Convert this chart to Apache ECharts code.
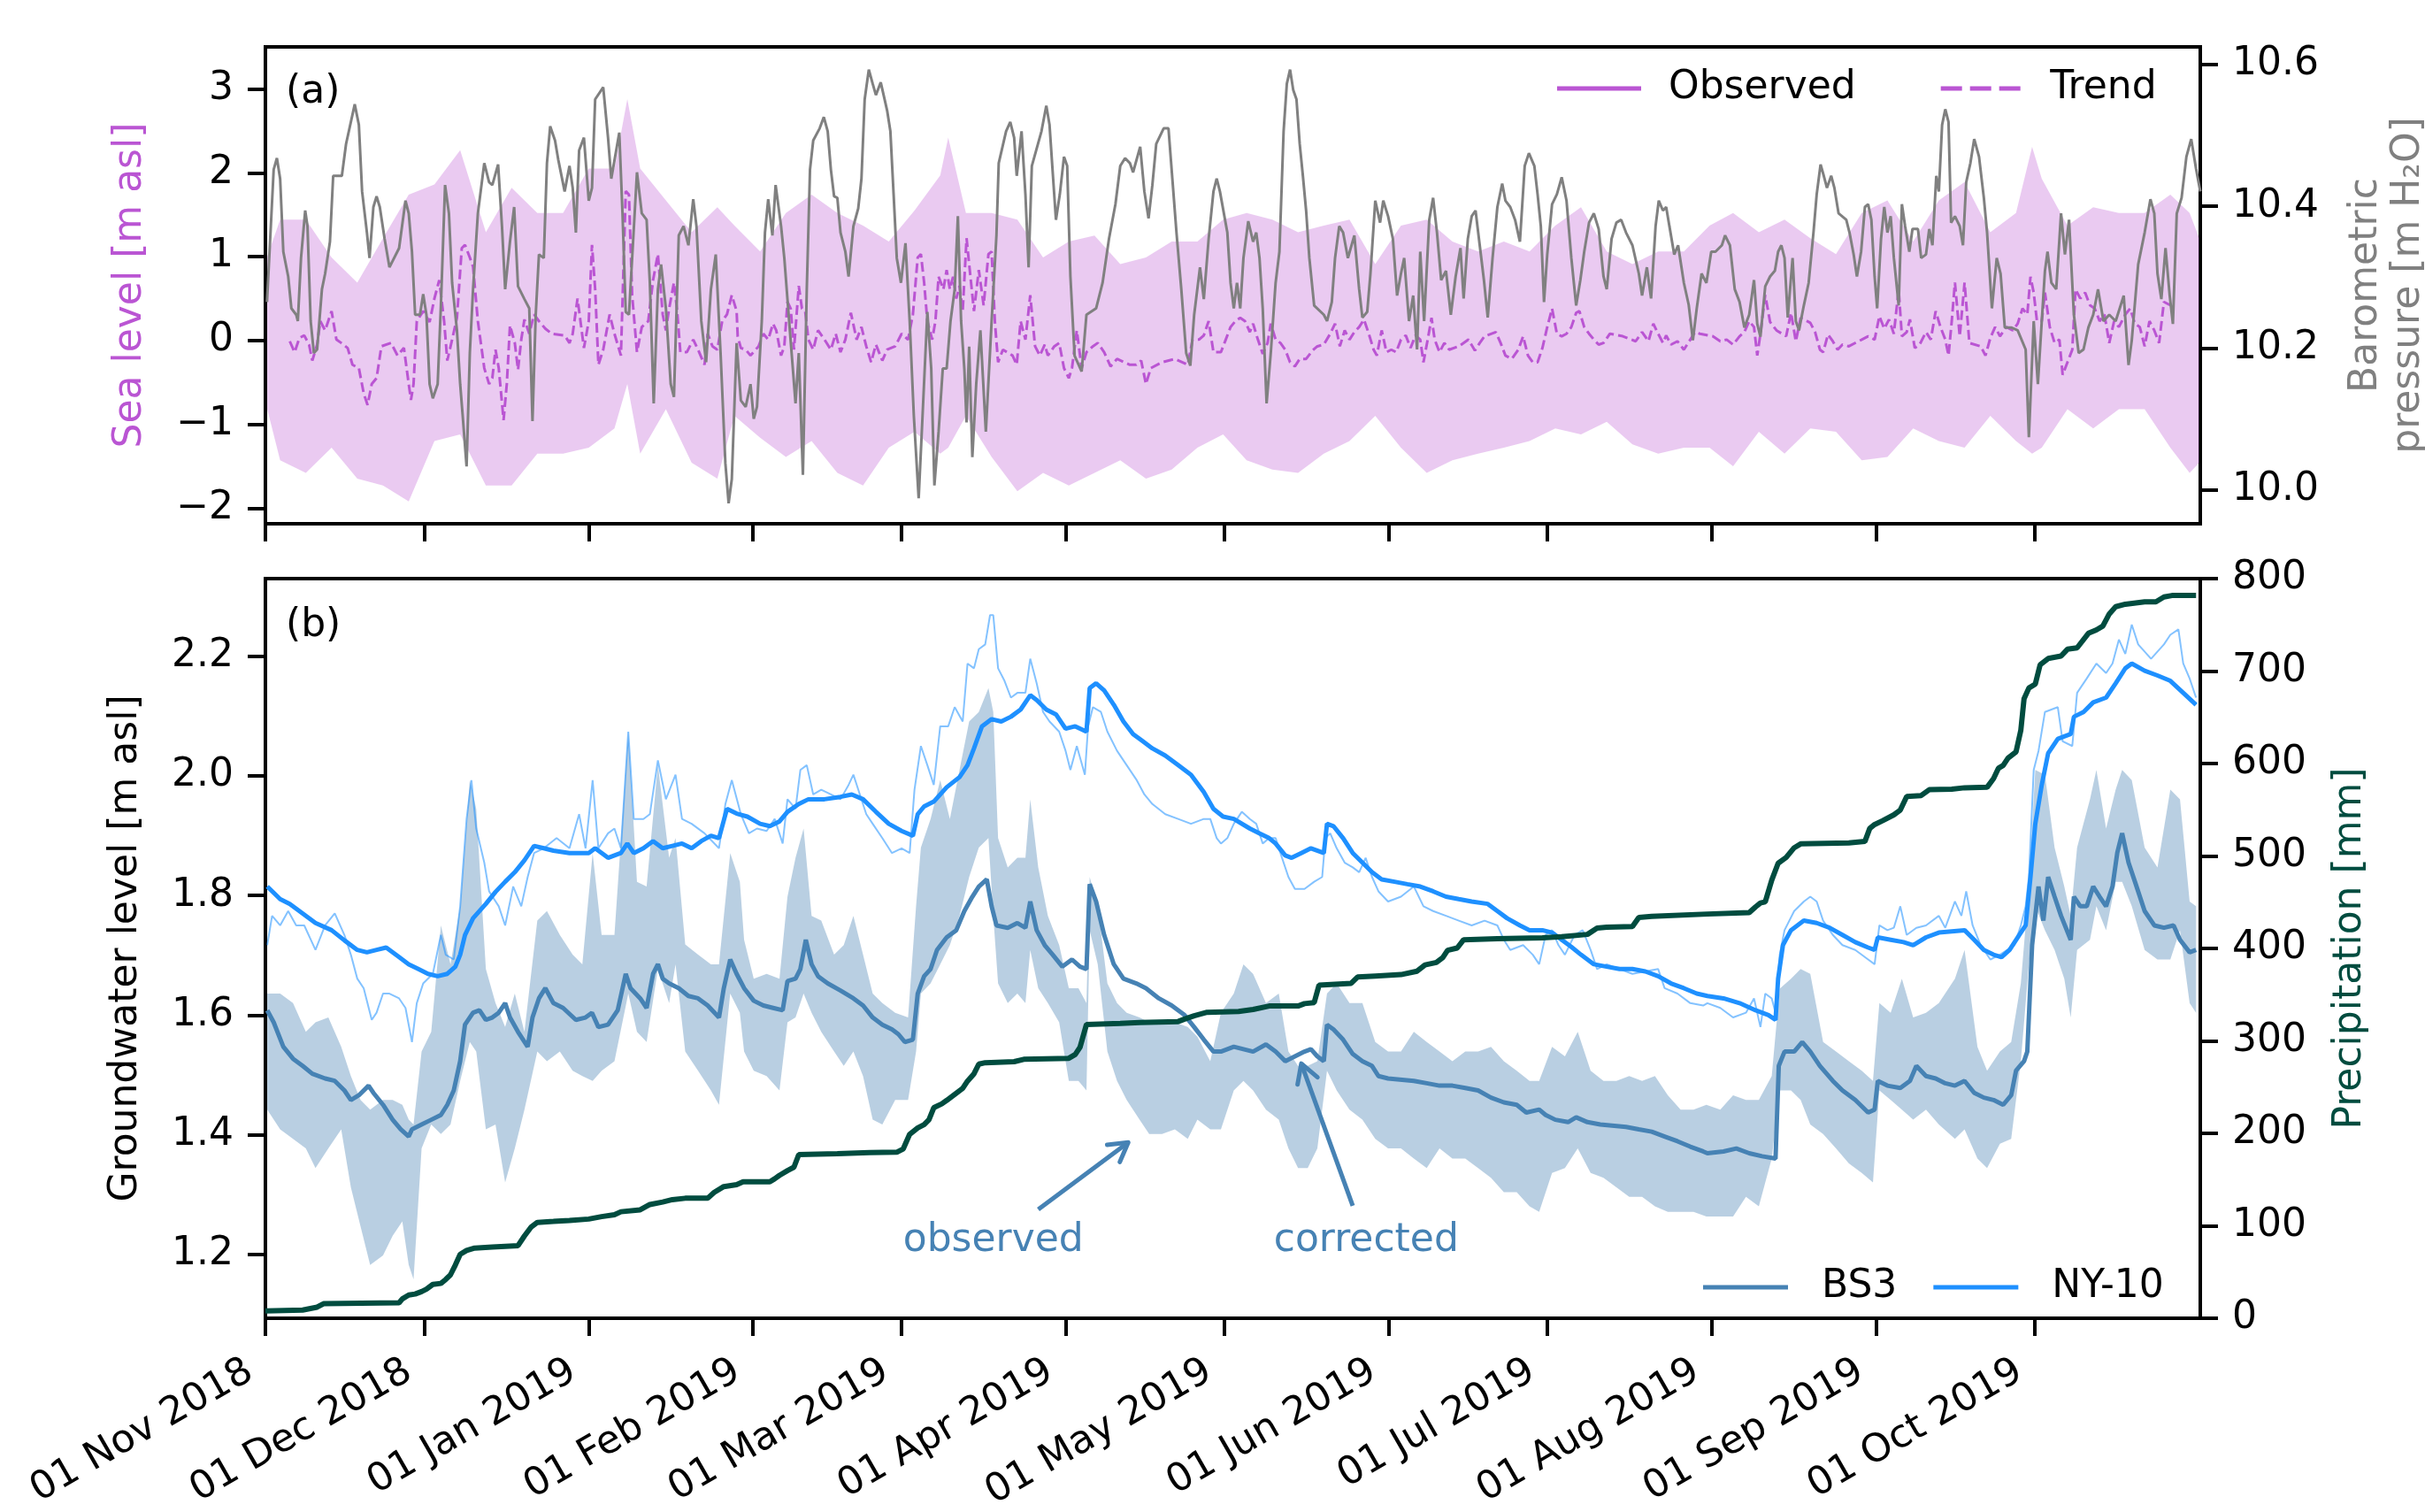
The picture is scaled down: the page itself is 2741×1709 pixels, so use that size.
<!DOCTYPE html>
<html>
<head>
<meta charset="utf-8">
<script src="https://cdn.jsdelivr.net/npm/echarts@6/dist/echarts.min.js"></script>
<style>
html, body { margin: 0; padding: 0; background: #fff; }
#chart { width: 2741px; height: 1709px; }
</style>
</head>
<body>
<div id="chart"></div>
<script>
// x values are days since 01 Nov 2018
var tickDays = [0, 30, 61, 92, 120, 151, 181, 212, 242, 273, 304, 334];
var tickLabels = ['01 Nov 2018', '01 Dec 2018', '01 Jan 2019', '01 Feb 2019', '01 Mar 2019', '01 Apr 2019',
  '01 May 2019', '01 Jun 2019', '01 Jul 2019', '01 Aug 2019', '01 Sep 2019', '01 Oct 2019'];
var seaTicks = [-2, -1, 0, 1, 2, 3];
var pressTicks = [10.0, 10.2, 10.4, 10.6];
var gwTicks = [1.2, 1.4, 1.6, 1.8, 2.0, 2.2];

// sea level observed: [day, low, high] of the tidal range
var seaBand = [[0.35,-0.82,1.00],[2.78,-1.43,1.44],[7.63,-1.58,1.44],[12.49,-1.28,0.99],[17.34,-1.65,0.69],[22.20,-1.73,1.22],[27.05,-1.92,1.74],[31.90,-1.20,1.86],[36.76,-1.12,2.27],[41.61,-1.73,1.29],[46.47,-1.73,1.82],[51.32,-1.35,1.52],[56.18,-1.35,1.52],[61.03,-1.28,2.05],[65.88,-1.05,2.05],[68.31,-0.52,2.88],[70.74,-1.35,2.05],[75.59,-0.82,1.67],[80.45,-1.46,1.29],[85.30,-1.65,1.59],
  [88.53,-0.90,1.37],[93.38,-1.16,1.06],[98.24,-1.39,1.52],[103.09,-1.20,1.74],[107.95,-1.58,1.52],[112.80,-1.73,1.37],[117.66,-1.28,1.18],[122.51,-1.09,1.55],[127.37,-1.35,1.97],[128.88,-1.28,2.42],[132.22,-0.90,1.52],[137.07,-1.39,1.52],[141.93,-1.80,1.44],[146.78,-1.58,0.99],[151.64,-1.73,1.18],[156.49,-1.58,1.25],[161.35,-1.43,0.91],[166.20,-1.65,0.99],[171.06,-1.54,1.18],[175.91,-1.28,1.18],[180.76,-1.12,1.44],
  [185.20,-1.43,1.52],[190.06,-1.54,1.44],[194.91,-1.58,1.29],[199.77,-1.35,1.37],[204.62,-1.20,1.44],[209.48,-0.90,0.91],[214.33,-1.28,1.37],[219.19,-1.58,1.44],[224.04,-1.43,1.18],[228.89,-1.35,1.06],[233.75,-1.28,1.18],[238.60,-1.20,1.06],[243.46,-1.05,1.37],[248.31,-1.12,1.59],[253.17,-0.97,1.06],[258.02,-1.24,0.91],[262.88,-1.35,1.06],[267.73,-1.28,1.06],[272.58,-1.28,1.37],
  [277.02,-1.50,1.52],[281.88,-1.09,1.29],[286.73,-1.35,1.44],[291.59,-1.05,1.22],[296.44,-1.09,1.03],[301.30,-1.43,1.52],[306.15,-1.39,1.67],[311.01,-1.05,1.18],[315.86,-1.20,1.67],[320.71,-1.28,1.89],[325.57,-0.90,1.29],[330.42,-1.20,1.52],[333.46,-1.35,2.31],[335.28,-1.28,1.93],[340.13,-0.82,1.37],[344.99,-1.05,1.59],[349.84,-0.82,1.52],[354.70,-0.82,1.52],[359.55,-1.28,1.74],[363.19,-1.58,1.52],[365.0,-1.46,1.22]];

var seaTrend = [[4.60,-0.01],[5.51,-0.14],[6.42,0.03],[7.33,0.06],[8.24,-0.05],[8.85,-0.24],[9.76,-0.05],[10.36,0.23],[11.27,0.12],[12.49,0.35],[13.40,0.01],[14.31,-0.03],[15.52,-0.09],[16.43,-0.29],[17.64,-0.33],[18.55,-0.63],[19.28,-0.77],[20.07,-0.52],[20.98,-0.45],[21.89,-0.07],[23.71,-0.03],[24.93,-0.18],[26.14,-0.09],[27.05,-0.52],[27.47,-0.71],[27.96,-0.52],[28.57,0.23],[29.78,0.35],[30.99,0.22],[31.90,0.50],[32.81,0.72],[33.73,0.23],[34.33,-0.24],[35.24,0.01],[36.15,0.27],[37.06,1.10],[37.67,1.14],[38.58,0.99],[39.19,0.88],[40.10,0.23],[41.31,-0.33],[42.22,-0.52],[42.83,-0.45],[43.43,-0.11],[44.04,-0.33],[44.95,-0.95],[45.56,-0.52],[46.16,0.18],[47.07,-0.03],[47.68,-0.35],[48.29,0.01],[48.89,0.25],[49.80,0.08],[50.71,0.31],[51.63,0.23],[52.84,0.14],[54.05,0.08],[56.48,0.06],[57.39,-0.03],[58.00,0.08],[58.91,0.50],[60.12,-0.09],[61.03,0.23],[61.64,1.14],[62.24,0.61],[62.85,-0.29],[63.76,-0.11],[64.97,0.31],[65.88,0.08],[67.10,-0.18],[68.01,1.78],[68.62,1.74],[69.22,0.54],[70.13,-0.14],[71.04,0.16],[72.26,0.23],[73.17,0.72],[74.08,1.03],[74.99,0.31],[75.59,0.12],[76.20,0.38],[77.11,0.69],[77.72,0.35],[78.32,-0.14],[79.54,-0.14],[80.75,0.01],[81.66,-0.11],[82.88,-0.29],[83.48,0.08],[84.39,-0.07],[85.30,-0.11],[86.21,0.23],[87.12,0.31],[88.03,0.54],[88.94,0.35],
  [89.14,0.05],[89.74,-0.09],[90.65,-0.11],[91.56,-0.18],[93.08,-0.07],[93.99,0.08],[94.90,0.01],[95.81,0.20],[96.42,0.12],[97.33,-0.18],[97.94,-0.07],[98.54,0.46],[99.15,0.38],[99.76,-0.11],[100.67,0.65],[101.27,0.38],[101.88,0.35],[102.49,0.01],[103.40,-0.11],[104.31,0.12],[105.52,0.01],[106.73,-0.11],[107.64,0.08],[108.55,-0.14],[109.46,0.01],[110.50,0.33],[111.59,0.01],[112.50,0.16],[113.41,-0.07],[114.32,-0.26],[115.23,-0.05],[116.44,-0.24],[117.35,-0.11],[118.87,-0.07],[120.08,0.08],[121.30,0.01],[122.21,0.31],[123.12,0.99],[123.72,1.03],[124.33,0.69],[124.94,0.23],[125.85,0.01],[126.46,0.23],[127.06,0.76],[127.97,0.61],[128.58,0.84],[129.19,0.61],[129.79,0.76],[130.40,0.50],[131.01,0.65],[131.61,0.35],[132.34,1.22],[132.83,0.91],[133.74,0.35],[134.65,0.84],[135.56,0.42],[136.47,1.03],[137.07,1.06],[137.68,0.23],[138.29,-0.26],[139.20,-0.11],[141.02,-0.18],[141.81,-0.29],[142.54,0.23],[143.45,0.01],[144.36,0.54],[145.27,-0.07],[146.18,-0.18],[147.09,-0.05],[147.69,-0.18],[148.91,-0.07],[149.82,-0.03],[150.73,-0.33],[151.64,-0.45],[152.24,-0.33],[153.15,0.12],[154.06,-0.33],[154.97,-0.14],[156.19,-0.07],[157.10,-0.03],[158.31,-0.14],[159.52,-0.31],[160.74,-0.22],[163.17,-0.29],[164.38,-0.29],[165.29,-0.24],[166.20,-0.52],[167.11,-0.33],[169.23,-0.26],[171.66,-0.22],[174.09,-0.29],[175.00,0.01],[176.21,0.01],[177.12,0.06],[178.03,0.23],[178.94,-0.14],[179.85,-0.14],
  [180.35,-0.14],[181.26,0.01],[182.17,0.16],[183.08,0.23],[183.99,0.27],[184.90,0.23],[185.81,0.10],[186.42,0.20],[187.33,0.01],[188.24,-0.16],[189.15,-0.03],[189.76,0.20],[190.67,0.01],[191.58,-0.03],[192.49,-0.11],[193.40,-0.26],[194.31,-0.31],[195.22,-0.22],[196.43,-0.22],[197.64,-0.12],[198.55,-0.07],[199.77,-0.05],[200.98,0.08],[201.89,0.20],[202.80,-0.07],[203.71,0.12],[204.62,0.01],[205.53,0.10],[206.44,0.16],[207.35,0.25],[208.26,0.08],[209.17,-0.11],[209.78,-0.18],[210.69,0.12],[211.60,-0.14],[212.51,-0.11],[213.42,-0.14],[214.33,0.01],[215.24,0.06],[216.15,-0.09],[217.06,0.06],[217.97,0.01],[218.58,-0.26],[219.49,0.05],[220.10,0.27],[220.70,0.01],[221.61,-0.14],[222.52,-0.03],[223.43,-0.11],[225.25,-0.07],[227.07,0.01],[228.29,-0.12],[229.20,-0.03],[230.11,0.05],[232.23,0.10],[233.14,-0.03],[234.05,-0.18],[235.27,-0.22],[236.48,-0.11],[237.39,0.05],[238.30,-0.18],[239.21,-0.26],[240.12,-0.26],[241.03,-0.09],[241.94,0.16],[242.85,0.38],[243.76,0.08],[244.67,0.05],[245.58,0.08],[246.49,0.16],[247.40,0.33],[248.01,0.35],[248.92,0.16],[249.83,0.08],[250.74,0.01],[251.65,-0.05],[252.56,-0.03],[253.77,0.08],[256.20,0.05],[258.63,-0.01],[259.84,0.10],[261.05,-0.01],[261.96,0.20],[262.88,0.08],[263.78,-0.03],[264.39,0.06],[265.30,-0.05],[266.52,-0.01],[267.73,-0.11],[268.94,0.01],[269.85,0.10],[270.76,0.08],[273.19,0.05],
  [274.60,-0.01],[275.81,0.01],[277.02,-0.05],[278.24,0.05],[279.15,0.10],[280.06,0.23],[280.97,0.16],[281.58,-0.18],[282.18,0.08],[283.09,0.54],[284.00,0.22],[285.22,0.12],[287.04,0.05],[287.95,0.33],[288.86,-0.01],[289.77,0.27],[291.59,0.21],[292.50,0.10],[293.41,-0.11],[294.02,-0.14],[294.93,0.07],[295.84,-0.01],[296.75,-0.11],[297.66,-0.05],[298.87,-0.07],[301.30,0.01],[302.51,0.05],[303.73,0.01],[304.63,0.29],[305.55,0.14],[306.45,0.25],[307.36,0.08],[308.27,0.61],[308.88,0.05],[309.79,0.10],[310.40,0.25],[311.31,-0.09],[312.22,-0.05],[313.43,0.10],[314.34,0.01],[315.25,0.35],[316.16,0.16],[317.07,0.01],[317.68,-0.18],[318.29,0.23],[318.89,0.69],[319.80,0.05],[320.71,0.69],[321.62,-0.03],[323.75,-0.07],[324.66,-0.18],[325.57,0.03],[326.48,0.16],[327.39,0.05],[328.60,0.16],[329.82,0.12],[330.73,0.20],[331.64,0.38],[332.55,0.31],[333.15,0.76],[333.76,0.57],[334.37,0.23],[335.28,0.23],[335.88,0.57],[336.79,0.16],[337.70,-0.03],[338.61,0.01],[339.22,-0.41],[340.13,-0.26],[341.04,-0.11],[341.65,0.61],[342.56,0.50],[343.47,0.57],[344.38,0.42],[345.29,0.38],[346.20,0.23],[347.11,0.31],[348.02,-0.03],[348.93,0.23],[349.84,0.16],[351.05,0.31],[351.96,0.38],[352.87,0.20],[353.78,0.16],[354.70,-0.07],[355.61,0.23],[356.52,0.12],[357.43,-0.03],[358.34,0.46],[359.55,0.42]];

var pressure = [[0.3,10.265],[1.56,10.452],[2.17,10.468],[2.78,10.439],[3.38,10.336],[4.30,10.301],[4.90,10.256],[5.81,10.247],[6.12,10.238],[6.72,10.327],[7.51,10.394],[7.94,10.372],[8.54,10.238],[9.15,10.193],[9.76,10.198],[10.67,10.283],[11.27,10.305],[12.18,10.350],[12.79,10.443],[14.43,10.443],[15.22,10.488],[16.86,10.544],[17.64,10.515],[18.25,10.421],[19.16,10.363],[19.65,10.327],[20.38,10.399],[20.98,10.414],[21.59,10.399],[22.50,10.354],[23.41,10.314],[25.23,10.341],[26.44,10.408],[27.05,10.390],[27.66,10.336],[28.26,10.247],[29.17,10.247],[29.78,10.276],[30.39,10.247],[30.99,10.149],[31.60,10.129],[32.51,10.149],[33.12,10.260],[33.91,10.430],[34.64,10.390],[35.24,10.292],[36.15,10.225],[36.76,10.149],[37.24,10.104],[37.97,10.033],[38.58,10.193],[39.19,10.283],[40.10,10.390],[41.31,10.461],[42.22,10.434],[42.83,10.430],[43.92,10.459],[44.65,10.372],[45.25,10.283],[46.16,10.350],[46.95,10.399],[47.68,10.287],[48.89,10.269],[49.80,10.256],[50.41,10.097],[51.02,10.247],[51.63,10.332],[52.54,10.327],[53.14,10.461],[53.75,10.513],[54.66,10.493],[55.27,10.466],[56.48,10.421],[57.39,10.457],[58.00,10.426],[58.60,10.363],[59.21,10.479],[60.12,10.497],[61.03,10.408],[61.64,10.426],[62.24,10.551],[63.76,10.568],[64.67,10.497],[65.28,10.439],[66.79,10.504],[67.40,10.390],[68.01,10.251],[68.62,10.247],[70.13,10.448],[71.04,10.390],[71.95,10.381],[72.56,10.292],[73.29,10.122],[74.08,10.283],[74.68,10.318],[75.59,10.256],[76.50,10.149],[77.11,10.131],[78.02,10.359],[78.93,10.372],[79.84,10.345],[80.75,10.410],[81.36,10.372],[82.27,10.238],[83.18,10.180],[84.09,10.283],[85.00,10.332],[85.91,10.193],[86.82,10.037],[87.43,9.981],[88.03,10.015],[88.94,10.207],
  [89.74,10.126],[90.65,10.117],[91.56,10.149],[92.17,10.100],[92.78,10.117],[93.69,10.238],[94.29,10.363],[94.90,10.410],[95.69,10.359],[96.30,10.430],[97.33,10.372],[97.94,10.327],[98.85,10.238],[100.06,10.122],[100.67,10.193],[101.45,10.021],[102.18,10.283],[102.79,10.452],[103.40,10.493],[104.61,10.510],[105.40,10.526],[106.13,10.506],[106.73,10.452],[107.34,10.414],[107.95,10.412],[108.55,10.363],[109.46,10.336],[110.07,10.301],[110.98,10.372],[111.89,10.397],[112.50,10.439],[113.11,10.551],[113.89,10.593],[114.62,10.573],[115.23,10.557],[116.14,10.575],[116.75,10.555],[117.35,10.535],[117.96,10.506],[118.57,10.417],[119.17,10.327],[119.96,10.292],[120.81,10.348],[121.60,10.238],[122.39,10.104],[123.30,9.988],[124.03,10.104],[124.94,10.251],[125.67,10.171],[126.27,10.006],[127.06,10.082],[127.85,10.171],[128.58,10.171],[129.31,10.238],[130.10,10.283],[130.70,10.386],[131.31,10.238],[131.92,10.171],[132.34,10.095],[132.83,10.202],[133.43,10.046],[134.16,10.149],[134.95,10.225],[135.98,10.082],[137.07,10.238],[137.98,10.359],[138.41,10.461],[139.80,10.506],[140.59,10.519],[141.32,10.497],[141.81,10.443],[142.72,10.506],[143.45,10.417],[144.05,10.314],[144.66,10.457],[146.48,10.506],[147.39,10.542],[148.00,10.515],[148.60,10.448],[149.21,10.381],[149.94,10.417],[150.73,10.470],[151.33,10.457],[151.94,10.301],[152.73,10.189],[154.06,10.167],[154.97,10.247],[156.79,10.256],[158.01,10.292],[159.22,10.354],[160.44,10.403],[161.35,10.457],[162.26,10.468],[163.17,10.461],[163.77,10.448],[165.11,10.484],[165.90,10.421],[166.69,10.383],[167.41,10.430],[168.14,10.488],[169.54,10.510],[170.45,10.510],[171.18,10.439],[171.96,10.363],[172.87,10.283],[173.79,10.193],[174.57,10.175],[175.30,10.247],[176.40,10.314],[177.12,10.269],[178.03,10.354],[178.94,10.421],[179.55,10.439],[180.16,10.421],
  [181.56,10.363],[182.17,10.292],[182.78,10.256],[183.38,10.292],[183.99,10.256],[184.60,10.327],[185.51,10.379],[186.42,10.350],[187.02,10.363],[187.63,10.327],[188.24,10.256],[188.97,10.122],[189.76,10.193],[190.67,10.292],[191.39,10.336],[192.18,10.506],[192.79,10.573],[193.40,10.593],[194.00,10.564],[194.61,10.551],[195.22,10.488],[195.82,10.443],[196.43,10.394],[197.04,10.327],[197.95,10.260],[199.77,10.247],[200.38,10.238],[201.28,10.265],[201.89,10.327],[202.68,10.372],[203.41,10.363],[204.32,10.327],[205.53,10.359],[206.44,10.283],[207.05,10.243],[207.96,10.251],[208.57,10.305],[209.48,10.408],[210.39,10.377],[210.99,10.408],[211.90,10.386],[212.81,10.354],[213.60,10.274],[214.33,10.305],[214.94,10.327],[215.85,10.238],[216.64,10.274],[217.37,10.198],[217.97,10.336],[218.70,10.238],[219.67,10.381],[220.40,10.412],[221.13,10.363],[221.92,10.296],[222.83,10.309],[223.74,10.247],[224.65,10.301],[225.56,10.341],[226.16,10.270],[226.95,10.354],[227.68,10.386],[228.41,10.394],[229.20,10.345],[229.99,10.296],[230.71,10.243],[231.62,10.327],[232.53,10.399],[233.44,10.432],[234.05,10.408],[234.96,10.399],[235.87,10.381],[236.78,10.350],[237.69,10.457],[238.48,10.475],[239.51,10.457],[240.12,10.417],[240.73,10.372],[241.33,10.265],[241.94,10.332],[242.85,10.403],[243.76,10.417],[244.67,10.441],[245.58,10.408],[246.49,10.327],[247.40,10.260],[248.19,10.296],[248.92,10.336],[249.83,10.377],[250.74,10.390],[251.65,10.368],[252.56,10.301],[253.17,10.283],[254.08,10.354],[254.99,10.377],[255.90,10.381],[256.81,10.363],[258.02,10.345],[259.23,10.305],[259.84,10.274],[260.75,10.314],[261.54,10.270],[262.39,10.372],[262.99,10.408],[263.78,10.394],[264.39,10.399],[265.00,10.372],[265.91,10.332],[266.64,10.345],[267.73,10.292],[268.64,10.261],[269.43,10.211],[270.16,10.256],[271.07,10.305],[271.98,10.292],[272.89,10.336],
  [273.69,10.336],[274.90,10.345],[275.51,10.359],[276.42,10.345],[277.33,10.283],[278.24,10.265],[279.15,10.229],[280.06,10.247],[280.97,10.296],[281.58,10.234],[282.18,10.216],[283.09,10.287],[284.00,10.301],[284.91,10.309],[285.52,10.336],[286.13,10.345],[286.73,10.327],[287.34,10.243],[288.25,10.327],[288.86,10.238],[289.46,10.225],[290.37,10.260],[291.28,10.292],[292.19,10.363],[292.80,10.417],[293.53,10.459],[294.14,10.443],[294.74,10.426],[295.53,10.443],[296.14,10.426],[296.93,10.390],[298.38,10.381],[298.99,10.363],[299.78,10.332],[300.39,10.301],[301.18,10.336],[301.90,10.399],[302.51,10.403],[303.12,10.381],[303.73,10.301],[304.21,10.256],[304.94,10.354],[305.55,10.399],[306.15,10.363],[306.76,10.386],[307.37,10.327],[308.27,10.260],[308.88,10.403],[309.49,10.372],[310.28,10.336],[310.88,10.368],[311.91,10.368],[312.52,10.327],[313.43,10.332],[314.04,10.368],[314.65,10.345],[315.37,10.443],[315.86,10.421],[316.47,10.515],[317.07,10.537],[317.68,10.519],[318.17,10.377],[318.89,10.386],[319.80,10.372],[320.41,10.345],[321.02,10.434],[321.81,10.461],[322.53,10.495],[323.44,10.470],[324.35,10.412],[324.96,10.363],[325.87,10.256],[326.78,10.327],[327.51,10.305],[328.30,10.229],[329.51,10.229],[330.73,10.225],[332.24,10.198],[332.85,10.074],[333.76,10.238],[334.55,10.149],[335.28,10.238],[335.88,10.309],[336.37,10.336],[337.10,10.292],[338.01,10.283],[338.92,10.390],[339.65,10.332],[340.43,10.381],[341.34,10.247],[342.25,10.193],[343.16,10.198],[344.08,10.229],[344.99,10.247],[345.90,10.283],[346.93,10.238],[348.02,10.247],[349.23,10.238],[350.75,10.274],[351.66,10.176],[352.27,10.211],[353.48,10.318],[354.70,10.363],[355.79,10.410],[356.52,10.390],[357.12,10.305],[357.85,10.269],[358.64,10.341],[359.43,10.274],[360.03,10.234],[360.76,10.390],[361.67,10.412],[362.58,10.470],[363.49,10.495],[364.40,10.453],[365.2,10.421]];

// BS3 observed: [day, low, high]
var bs3Band = [[0.35,1.442,1.636],[2.78,1.409,1.636],[5.21,1.393,1.620],[7.63,1.377,1.572],[9.45,1.344,1.588],[11.88,1.377,1.596],[14.31,1.409,1.547],[16.13,1.312,1.498],[17.95,1.247,1.458],[19.77,1.182,1.442],[22.20,1.198,1.458],[24.02,1.231,1.458],[25.84,1.255,1.450],[27.05,1.182,1.425],[27.96,1.158,1.417],[29.48,1.377,1.539],[31.30,1.417,1.572],[33.12,1.401,1.750],[34.94,1.417,1.685],[36.76,1.490,1.782],[38.58,1.555,1.993],[39.79,1.539,1.945],[41.61,1.409,1.677],[43.43,1.417,1.620],[45.25,1.320,1.580],[47.07,1.377,1.636],[48.89,1.442,1.572],[51.32,1.539,1.758],[53.14,1.523,1.774],[55.57,1.539,1.734],[57.99,1.507,1.701],[59.82,1.498,1.685],[61.76,1.490,1.871],[63.46,1.507,1.734],[65.88,1.523,1.734],[68.49,1.636,2.074],[70.13,1.572,1.823],[71.95,1.555,1.815],[74.08,1.677,2.018],[76.20,1.620,1.863],[77.41,1.685,1.896],[79.24,1.539,1.718],[81.66,1.507,1.701],[84.09,1.474,1.685],[85.61,1.450,1.685],[87.73,1.636,1.871],[89.55,1.604,1.823],
  [90.35,1.539,1.726],[92.17,1.507,1.661],[94.60,1.498,1.669],[97.03,1.474,1.661],[98.54,1.588,1.798],[100.06,1.596,1.863],[101.58,1.636,1.912],[103.09,1.604,1.766],[104.91,1.572,1.758],[107.34,1.539,1.701],[109.16,1.515,1.717],[110.98,1.539,1.766],[112.80,1.498,1.701],[114.62,1.425,1.636],[116.44,1.417,1.620],[118.87,1.458,1.604],[121.30,1.458,1.596],[122.81,1.539,1.782],[123.72,1.636,1.880],[125.55,1.653,1.928],[127.37,1.685,1.993],[129.19,1.717,1.928],[131.01,1.766,2.010],[132.83,1.831,2.091],[134.65,1.880,2.107],[136.47,1.896,2.147],[137.38,1.766,2.107],[138.29,1.653,1.896],[140.11,1.620,1.847],[141.93,1.636,1.863],[143.45,1.620,1.863],[144.36,1.709,1.961],[145.87,1.645,1.847],[147.69,1.620,1.766],[149.82,1.588,1.717],[151.64,1.490,1.645],[153.46,1.490,1.645],[154.97,1.474,1.620],[155.58,1.742,1.831],[157.10,1.685,1.782],[158.92,1.539,1.653],[160.74,1.490,1.620],[162.56,1.458,1.604],[164.99,1.425,1.596],[166.81,1.401,1.588],[169.23,1.401,1.588],[171.66,1.409,1.588],[174.09,1.393,1.580],[175.91,1.425,1.564],[178.34,1.409,1.523],
  [180.35,1.409,1.604],[182.78,1.474,1.636],[184.60,1.490,1.685],[186.42,1.474,1.669],[188.85,1.442,1.620],[191.27,1.425,1.636],[193.09,1.377,1.539],[194.91,1.344,1.515],[196.73,1.344,1.515],[198.55,1.377,1.523],[200.37,1.507,1.636],[202.20,1.474,1.653],[204.62,1.442,1.620],[207.05,1.425,1.620],[209.48,1.393,1.555],[211.90,1.377,1.539],[214.33,1.377,1.539],[216.76,1.360,1.572],[219.19,1.344,1.555],[221.61,1.377,1.539],[224.04,1.360,1.523],[226.47,1.360,1.539],[228.89,1.344,1.539],[231.32,1.328,1.547],[233.75,1.304,1.523],[236.18,1.304,1.507],[238.60,1.280,1.490],[240.42,1.271,1.490],[242.85,1.336,1.547],[245.28,1.344,1.531],[247.70,1.377,1.572],[250.13,1.336,1.507],[252.56,1.328,1.490],[254.99,1.312,1.490],[257.41,1.296,1.498],[259.84,1.296,1.490],[262.27,1.280,1.498],[264.70,1.271,1.466],[267.12,1.271,1.442],[269.55,1.271,1.442],[271.98,1.263,1.450],
  [274.60,1.263,1.442],[277.02,1.263,1.466],[279.45,1.296,1.458],[281.88,1.280,1.458],[284.31,1.360,1.498],[285.82,1.474,1.644],[287.95,1.474,1.661],[289.77,1.458,1.677],[291.59,1.417,1.669],[294.01,1.401,1.555],[296.44,1.377,1.539],[298.87,1.352,1.523],[301.30,1.336,1.507],[303.42,1.320,1.490],[304.63,1.474,1.620],[306.76,1.458,1.604],[308.88,1.442,1.661],[311.01,1.425,1.596],[313.43,1.442,1.604],[315.86,1.417,1.620],[318.89,1.393,1.661],[320.71,1.409,1.709],[323.14,1.360,1.547],[324.96,1.344,1.507],[327.39,1.385,1.539],[329.51,1.393,1.555],[331.33,1.523,1.653],[332.85,1.685,1.815],[334.06,1.782,2.010],[335.88,1.742,2.002],[337.70,1.709,1.880],[339.53,1.661,1.815],[340.74,1.596,1.766],[341.95,1.709,1.880],[344.38,1.726,1.961],[345.59,1.782,2.010],[347.42,1.742,1.912],[349.23,1.823,1.977],[350.45,1.823,2.010],[352.27,1.782,1.993],[354.70,1.709,1.880],[357.12,1.693,1.847],[359.55,1.693,1.977],[361.37,1.742,1.961],[363.19,1.620,1.790],[364.40,1.604,1.782]];

var bs3 = [[0.35,1.608],[1.56,1.588],[3.38,1.547],[5.21,1.527],[7.03,1.515],[8.85,1.502],[11.27,1.494],[13.09,1.490],[14.91,1.474],[16.13,1.458],[17.64,1.466],[19.47,1.482],[20.38,1.470],[22.20,1.450],[24.02,1.425],[25.53,1.409],[27.05,1.397],[27.66,1.409],[29.48,1.417],[31.30,1.425],[33.12,1.433],[34.33,1.450],[35.55,1.474],[36.76,1.523],[37.67,1.584],[39.19,1.604],[40.40,1.608],[41.61,1.592],[42.83,1.596],[44.04,1.604],[45.25,1.620],[46.16,1.596],[47.68,1.572],[49.50,1.547],[50.41,1.596],[51.63,1.628],[52.84,1.645],[54.36,1.620],[56.18,1.612],[58.60,1.592],[60.42,1.596],[61.64,1.604],[62.85,1.580],[64.67,1.584],[66.49,1.608],[68.01,1.669],[68.92,1.645],[70.74,1.628],[71.95,1.612],[73.17,1.669],[74.08,1.685],[74.99,1.661],[76.20,1.653],[78.02,1.645],[79.84,1.632],[81.66,1.628],[83.48,1.616],[85.61,1.596],[86.52,1.645],[87.73,1.693],[88.94,1.669],
  [90.35,1.645],[92.17,1.624],[93.99,1.616],[95.81,1.612],[97.63,1.608],[98.54,1.657],[100.06,1.661],[100.97,1.677],[102.00,1.726],[103.09,1.685],[104.31,1.665],[106.13,1.653],[108.55,1.641],[110.98,1.628],[112.80,1.616],[114.62,1.596],[116.44,1.584],[118.26,1.576],[119.48,1.568],[120.69,1.555],[122.21,1.559],[123.12,1.636],[124.33,1.665],[125.55,1.677],[126.76,1.709],[128.58,1.730],[130.40,1.742],[131.92,1.774],[133.43,1.798],[134.65,1.815],[136.16,1.827],[137.07,1.782],[137.98,1.750],[140.11,1.746],[141.93,1.754],[143.45,1.746],[144.36,1.790],[145.57,1.742],[147.09,1.717],[148.60,1.701],[150.42,1.681],[152.24,1.693],[153.76,1.681],[154.97,1.677],[155.58,1.819],[156.79,1.790],[158.31,1.734],[160.13,1.685],[161.95,1.661],[164.38,1.653],[166.20,1.645],[168.63,1.628],[171.06,1.616],[173.48,1.600],[175.30,1.580],[177.12,1.559],[178.94,1.539],
  [180.35,1.539],[182.78,1.547],[186.42,1.539],[188.85,1.551],[190.67,1.539],[192.49,1.523],[194.31,1.531],[196.13,1.539],[197.34,1.543],[198.55,1.531],[199.77,1.523],[200.37,1.584],[201.59,1.576],[203.41,1.559],[205.23,1.535],[207.05,1.523],[208.87,1.515],[210.08,1.498],[211.90,1.494],[216.76,1.490],[219.19,1.486],[221.61,1.482],[224.04,1.482],[226.47,1.478],[228.89,1.474],[231.32,1.462],[233.75,1.454],[236.18,1.450],[237.99,1.437],[240.42,1.442],[241.64,1.433],[243.46,1.425],[245.88,1.421],[247.40,1.429],[249.53,1.421],[251.95,1.417],[256.81,1.413],[259.23,1.409],[261.66,1.405],[264.09,1.397],[266.52,1.389],[268.94,1.380],[271.37,1.372],
  [272.17,1.369],[275.20,1.372],[277.63,1.377],[280.06,1.369],[282.49,1.364],[285.03,1.360],[285.64,1.515],[286.73,1.539],[288.55,1.539],[290.07,1.555],[291.59,1.539],[293.41,1.515],[295.84,1.490],[297.66,1.474],[300.08,1.458],[302.51,1.437],[303.73,1.442],[304.33,1.490],[306.15,1.482],[308.58,1.478],[310.40,1.490],[311.61,1.515],[313.43,1.498],[315.25,1.494],[317.07,1.486],[318.89,1.482],[320.71,1.490],[322.53,1.470],[324.35,1.462],[326.18,1.458],[328.00,1.450],[329.51,1.466],[330.42,1.507],[331.94,1.523],[332.55,1.539],[333.46,1.717],[334.67,1.815],[335.58,1.758],[336.49,1.831],[337.70,1.798],[338.92,1.766],[340.74,1.726],[341.35,1.798],[342.56,1.782],[343.77,1.782],[344.99,1.815],[346.20,1.798],[347.42,1.782],[348.63,1.815],[349.54,1.872],[350.45,1.904],[351.66,1.855],[352.87,1.823],[354.70,1.774],[356.52,1.750],[358.34,1.746],[360.16,1.750],[361.37,1.726],[363.19,1.705],[364.40,1.709]];

var ny10Obs = [[0.35,1.717],[1.26,1.766],[2.78,1.750],[4.30,1.774],[5.81,1.750],[7.33,1.750],[9.45,1.709],[11.27,1.750],[13.09,1.770],[14.91,1.734],[16.13,1.701],[17.34,1.661],[18.55,1.645],[20.07,1.592],[20.98,1.604],[22.20,1.636],[23.41,1.636],[25.23,1.628],[26.44,1.612],[27.66,1.555],[28.57,1.620],[29.78,1.653],[31.60,1.669],[33.12,1.734],[34.03,1.701],[35.55,1.693],[36.76,1.782],[37.97,1.928],[38.88,1.993],[39.79,1.912],[41.31,1.855],[42.22,1.807],[44.04,1.782],[45.25,1.750],[46.77,1.815],[48.29,1.782],[49.50,1.831],[50.71,1.871],[52.54,1.879],[54.96,1.896],[57.39,1.879],[59.21,1.936],[60.42,1.879],[61.76,1.993],[62.85,1.879],[64.67,1.904],[65.88,1.912],[67.10,1.879],[68.49,2.074],[69.53,1.928],[71.35,1.928],[72.56,1.936],[74.08,2.026],[75.59,1.961],[77.41,2.002],[78.63,1.928],[80.45,1.920],[82.88,1.904],[85.61,1.879],[86.82,1.953],[88.03,1.993],
  [89.74,1.936],[91.26,1.904],[92.78,1.912],[94.60,1.908],[96.12,1.928],[97.63,1.887],[98.54,1.961],[100.06,1.945],[100.97,2.010],[102.18,2.018],[103.40,1.969],[104.91,1.977],[106.73,1.969],[108.55,1.961],[110.07,1.985],[110.98,2.002],[112.20,1.969],[113.41,1.936],[114.62,1.920],[116.44,1.896],[118.26,1.871],[120.08,1.879],[121.60,1.871],[122.51,1.977],[123.72,2.050],[124.94,2.018],[126.15,1.985],[127.37,2.083],[128.88,2.083],[130.10,2.115],[131.61,2.091],[132.52,2.188],[133.74,2.180],[134.65,2.212],[135.86,2.220],[136.77,2.269],[137.38,2.269],[138.29,2.180],[139.50,2.159],[140.71,2.131],[141.93,2.139],[143.45,2.139],[144.36,2.196],[145.57,2.155],[146.78,2.107],[148.00,2.091],[149.82,2.074],[151.03,2.042],[151.94,2.010],[153.15,2.050],[154.67,2.002],[155.28,2.083],[156.19,2.115],[157.70,2.107],[158.92,2.074],[160.74,2.042],[162.56,2.018],[164.38,1.994],[165.90,1.969],[167.41,1.953],[169.84,1.936],[172.27,1.928],[174.70,1.920],[177.12,1.928],[178.34,1.928],[179.55,1.896],
  [180.35,1.887],[181.56,1.896],[182.78,1.920],[184.29,1.940],[185.81,1.928],[187.02,1.920],[188.24,1.887],[189.45,1.896],[190.67,1.896],[191.88,1.863],[193.09,1.831],[194.31,1.811],[196.13,1.811],[197.95,1.823],[199.46,1.831],[200.07,1.896],[200.98,1.904],[202.20,1.879],[203.71,1.855],[205.23,1.847],[206.44,1.839],[207.66,1.863],[208.87,1.831],[210.08,1.807],[211.90,1.790],[214.33,1.798],[216.76,1.815],[218.58,1.782],[220.40,1.774],[222.83,1.766],[225.25,1.758],[227.68,1.750],[230.11,1.758],[232.53,1.750],[233.75,1.726],[234.96,1.709],[237.39,1.717],[239.21,1.701],[240.42,1.685],[241.64,1.734],[242.85,1.742],[244.06,1.717],[245.28,1.701],[247.10,1.734],[248.62,1.742],[250.13,1.709],[251.35,1.677],[253.17,1.685],[255.59,1.677],[258.02,1.669],[260.45,1.673],[262.88,1.677],[264.09,1.645],[266.52,1.636],[268.94,1.620],[271.37,1.616],
  [272.17,1.620],[274.60,1.612],[277.02,1.596],[279.45,1.604],[280.97,1.628],[282.18,1.580],[283.09,1.636],[284.31,1.628],[285.03,1.604],[285.82,1.701],[286.73,1.742],[288.55,1.774],[290.37,1.790],[291.59,1.798],[292.80,1.790],[294.01,1.758],[295.84,1.734],[297.66,1.717],[300.08,1.709],[302.51,1.693],[303.73,1.685],[304.63,1.750],[306.15,1.742],[307.36,1.746],[308.58,1.782],[309.79,1.734],[311.61,1.746],[313.43,1.750],[315.86,1.766],[317.07,1.746],[318.89,1.790],[320.11,1.766],[321.02,1.807],[322.23,1.750],[323.75,1.717],[325.57,1.693],[327.39,1.701],[330.12,1.717],[331.33,1.750],[332.24,1.782],[332.85,1.831],[333.76,2.010],[334.67,2.042],[335.88,2.107],[338.31,2.115],[339.22,2.058],[341.04,2.050],[341.95,2.139],[343.77,2.163],[345.59,2.188],[347.42,2.172],[348.63,2.188],[349.84,2.228],[351.05,2.204],[352.27,2.253],[353.48,2.220],[355.91,2.196],[358.34,2.220],[359.55,2.236],[361.07,2.245],[361.98,2.188],[363.19,2.163],[364.40,2.131]];

var ny10 = [[0.35,1.815],[2.78,1.794],[4.60,1.786],[7.03,1.770],[9.45,1.754],[12.49,1.742],[14.91,1.725],[17.34,1.709],[19.16,1.705],[20.98,1.709],[22.80,1.713],[25.23,1.697],[27.05,1.685],[28.87,1.677],[30.69,1.669],[32.51,1.665],[34.33,1.669],[35.85,1.681],[36.76,1.701],[37.67,1.734],[39.19,1.762],[41.61,1.786],[43.43,1.806],[45.25,1.823],[47.07,1.839],[48.89,1.859],[50.71,1.883],[52.54,1.879],[54.36,1.875],[57.39,1.871],[61.03,1.871],[62.24,1.879],[64.67,1.863],[67.10,1.871],[68.31,1.887],[69.53,1.871],[71.35,1.879],[73.17,1.891],[74.99,1.879],[76.81,1.883],[78.63,1.887],[80.45,1.879],[82.27,1.891],[84.09,1.900],[85.61,1.896],[87.12,1.945],[88.94,1.937],
  [90.96,1.932],[93.38,1.920],[95.21,1.916],[97.03,1.924],[98.54,1.940],[100.67,1.953],[102.49,1.961],[105.52,1.961],[108.55,1.965],[110.68,1.969],[112.80,1.961],[115.23,1.940],[117.66,1.920],[120.08,1.908],[122.21,1.900],[123.12,1.936],[124.33,1.949],[126.15,1.957],[128.58,1.981],[131.01,1.998],[132.52,2.018],[133.74,2.046],[135.25,2.083],[137.07,2.095],[138.89,2.091],[140.71,2.099],[142.54,2.111],[144.36,2.135],[145.57,2.127],[147.39,2.111],[149.21,2.103],[151.03,2.079],[152.85,2.083],[154.97,2.074],[155.58,2.147],[156.79,2.155],[158.31,2.143],[160.13,2.119],[161.95,2.091],[163.77,2.070],[165.59,2.058],[167.41,2.046],[169.84,2.034],[172.27,2.018],[174.70,2.002],[177.12,1.973],[178.94,1.945],[180.76,1.932],
  [182.78,1.928],[185.81,1.912],[187.63,1.904],[189.45,1.896],[190.67,1.887],[192.49,1.867],[193.70,1.863],[195.52,1.871],[197.34,1.879],[199.77,1.871],[200.37,1.920],[201.59,1.916],[203.41,1.896],[205.23,1.871],[207.05,1.855],[208.87,1.839],[210.69,1.827],[213.12,1.823],[215.54,1.819],[217.97,1.815],[220.40,1.807],[222.83,1.798],[225.25,1.794],[227.68,1.790],[230.71,1.786],[232.53,1.774],[234.36,1.762],[236.78,1.750],[238.60,1.742],[241.03,1.742],[242.85,1.738],[244.67,1.726],[246.49,1.714],[248.31,1.701],[250.74,1.685],[253.17,1.681],[255.59,1.677],[258.02,1.677],[260.45,1.673],[262.88,1.665],[265.30,1.653],[267.73,1.645],[270.16,1.636],
  [272.17,1.632],[275.20,1.628],[278.24,1.620],[281.27,1.608],[283.70,1.600],[285.03,1.592],[285.52,1.661],[286.43,1.717],[287.95,1.742],[290.37,1.758],[292.80,1.754],[295.23,1.746],[297.66,1.734],[300.08,1.722],[302.51,1.713],[303.73,1.709],[304.33,1.730],[306.76,1.726],[309.19,1.722],[311.01,1.717],[313.43,1.730],[315.86,1.738],[320.71,1.742],[322.53,1.726],[324.35,1.709],[326.18,1.701],[327.69,1.697],[329.21,1.709],[331.03,1.734],[332.24,1.750],[333.15,1.831],[334.06,1.920],[335.28,1.985],[336.49,2.038],[338.31,2.062],[340.74,2.070],[341.35,2.099],[343.17,2.107],[344.99,2.123],[347.42,2.131],[349.23,2.155],[351.05,2.180],[352.27,2.188],[354.70,2.176],[357.12,2.168],[359.55,2.159],[361.98,2.139],[364.40,2.119]];

// cumulative precipitation [mm]
var precip = [[0,8],[7.03,8.9],[9.76,12.0],[10.97,15.7],[25.23,16.8],[25.84,20.9],[27.05,25.1],[28.26,26.2],[29.48,28.8],[30.39,31.4],[31.60,36.6],[33.12,37.7],[34.03,41.9],[34.94,47.1],[35.85,57.6],[36.76,69.1],[37.97,73.3],[39.49,75.9],[42.83,77.0],[47.68,78.5],[48.89,89.0],[50.11,98.4],[51.32,103.7],[54.36,104.7],[57.39,105.8],[61.03,107.3],[63.46,109.9],[65.88,112.0],[67.10,115.2],[70.74,117.3],[72.56,123.0],[74.99,125.7],[76.81,128.3],[79.24,129.8],[83.48,129.8],[84.70,136.1],[86.52,142.4],[88.94,144.5],[90.16,147.6],[95.21,147.6],[96.12,150.8],[97.03,154.5],[98.54,159.7],[99.76,163.4],[100.67,177.0],[107.95,178.0],[114.01,179.1],[119.17,179.6],[120.39,183.2],[121.60,199.0],[123.12,205.8],[124.33,209.4],[125.24,214.7],[126.15,227.7],[127.67,231.9],[128.58,235.6],[130.40,243.5],[131.61,248.7],[132.52,256.5],[133.74,264.4],[134.65,274.9],[135.86,276.4],[141.32,277.5],[143.14,280.1],[151.64,281.2],[152.85,285.3],[153.76,293.2],[154.97,317.8],[161.35,318.8],[164.99,319.9],[172.27,320.9],[173.48,323.6],[175.30,327.2],[177.73,330.9],[183.68,331.9],[186.42,334.0],[189.45,337.7],[194.91,337.7],[196.13,340.3],[197.95,341.4],[198.86,360.2],[204.93,362.3],[206.14,369.1],[209.48,370.2],[214.33,371.7],[217.37,375.4],[218.88,382.2],[221.01,384.8],[222.22,390.1],[223.13,397.9],[224.95,400.5],[226.16,409.4],[232.53,410.5],[241.03,411.5],[244.67,412.6],[249.53,415.2],[251.35,422.0],[253.17,423.0],[258.02,423.6],[259.23,433.5],[261.66,434.6],[272.17,437.2],[280.06,438.7],[281.27,445.0],[282.18,449.2],[283.09,450.3],[284.31,473.8],[285.52,492.1],[287.04,498.4],[288.55,508.9],[289.77,513.1],[298.87,514.1],[301.90,515.7],[302.81,529.8],[303.73,534.0],[305.24,538.2],[307.36,544.5],[308.58,549.7],[309.79,564.4],[312.52,565.4],[314.04,571.7],[318.29,572.3],[320.71,573.8],[324.96,574.3],[326.18,583.8],[327.09,594.8],[328.00,597.9],[328.91,605.8],[330.42,612.6],[331.33,636.1],[331.94,670.2],[332.85,681.7],[334.06,685.9],[334.97,706.8],[336.49,713.6],[338.92,716.2],[340.13,723.6],[341.95,725.1],[344.08,740.8],[345.59,744.5],[346.81,748.7],[348.02,761.8],[349.23,769.6],[351.05,772.3],[354.70,774.9],[356.82,774.9],[358.34,780.1],[359.85,781.7],[364.40,781.7]];

// annotation arrows (tail, head) and label anchors in panel (b) data coordinates
var arrowObserved = [[145.87, 1.275], [162.86, 1.387]];
var arrowCorrected = [[205.23, 1.281], [195.52, 1.519]];
var noteLabels = [['observed', 137.38, 1.223], ['corrected', 207.78, 1.223]];

var FONT = 'DejaVu Sans';
var FS = 44;
var ORCHID = '#BA55D3', GRAY = '#808080', STEEL = '#4682B4', DODGER = '#1E90FF', GREEN = '#004C3F';
var SOLID_ICON = 'path://M0,0h96v5h-96z';
var DASH_ICON = 'path://M0,0h24v5h-24zM33,0h24v5h-24zM66,0h24v5h-24z';

function monthLabel(v) {
  var i = tickDays.indexOf(Math.round(v));
  return i >= 0 ? tickLabels[i] : '';
}

// one filled polygon between the low and high envelope of a band
function bandSeries(band, xi, yi, fill) {
  return {
    type: 'custom', xAxisIndex: xi, yAxisIndex: yi, silent: true, clip: true,
    data: band, encode: { x: 0, y: [1, 2] },
    renderItem: function (params, api) {
      if (params.dataIndex !== 0) return null;
      var pts = [];
      band.forEach(function (p) { pts.push(api.coord([p[0], p[2]])); });
      for (var i = band.length - 1; i >= 0; i--) pts.push(api.coord([band[i][0], band[i][1]]));
      return { type: 'polygon', shape: { points: pts }, style: { fill: fill } };
    }
  };
}

var chart = echarts.init(document.getElementById('chart'), null, { renderer: 'canvas' });

var axisLineStyle = { color: '#000', width: 4 };
var tickStyle = { show: true, length: 20, lineStyle: { color: '#000', width: 4 } };
var labelStyle = { color: '#000', fontSize: FS, fontFamily: FONT };

function xAxis(gridIndex, showLabels) {
  return {
    type: 'value', gridIndex: gridIndex, min: 0, max: 365.2,
    axisLine: { show: true, onZero: false, lineStyle: axisLineStyle },
    axisTick: Object.assign({ customValues: tickDays }, tickStyle),
    axisLabel: showLabels ? Object.assign({
      show: true, customValues: tickDays, rotate: 30, margin: 47, padding: [0, 20, 0, 0], formatter: monthLabel
    }, labelStyle) : { show: false },
    splitLine: { show: false }
  };
}

var option = {
  animation: false,
  backgroundColor: '#fff',
  textStyle: { fontFamily: FONT },
  grid: [
    { left: 300, right: 254, top: 53, height: 539, show: true, borderColor: '#000', borderWidth: 4, containLabel: false, outerBoundsMode: 'none' },
    { left: 300, right: 254, top: 654, height: 836, show: true, borderColor: '#000', borderWidth: 4, containLabel: false, outerBoundsMode: 'none' }
  ],
  xAxis: [xAxis(0, false), xAxis(1, true)],
  yAxis: [
    {
      type: 'value', gridIndex: 0, position: 'left', min: -2.187, max: 3.502,
      name: 'Sea level [m asl]', nameLocation: 'middle', nameRotate: 90, nameGap: 130,
      nameTextStyle: { color: ORCHID, fontSize: FS, fontFamily: FONT },
      axisLine: { show: true, lineStyle: axisLineStyle },
      axisTick: Object.assign({ customValues: seaTicks }, tickStyle),
      axisLabel: Object.assign({ customValues: seaTicks, margin: 36,
        formatter: function (v) { return v < 0 ? '\u2212' + Math.abs(v) : String(v); } }, labelStyle),
      splitLine: { show: false }
    },
    {
      type: 'value', gridIndex: 0, position: 'right', min: 9.952, max: 10.625,
      name: 'Barometric\npressure [m H\u2082O]', nameLocation: 'middle', nameRotate: 90, nameGap: 164,
      nameTextStyle: { color: GRAY, fontSize: FS, fontFamily: FONT, lineHeight: 48 },
      axisLine: { show: true, lineStyle: axisLineStyle },
      axisTick: Object.assign({ customValues: pressTicks }, tickStyle),
      axisLabel: Object.assign({ customValues: pressTicks, margin: 36,
        formatter: function (v) { return v.toFixed(1); } }, labelStyle),
      splitLine: { show: false }
    },
    {
      type: 'value', gridIndex: 1, position: 'left', min: 1.093, max: 2.330,
      name: 'Groundwater level [m asl]', nameLocation: 'middle', nameRotate: 90, nameGap: 135,
      nameTextStyle: { color: '#000', fontSize: FS, fontFamily: FONT },
      axisLine: { show: true, lineStyle: axisLineStyle },
      axisTick: Object.assign({ customValues: gwTicks }, tickStyle),
      axisLabel: Object.assign({ customValues: gwTicks, margin: 36,
        formatter: function (v) { return v.toFixed(1); } }, labelStyle),
      splitLine: { show: false }
    },
    {
      type: 'value', gridIndex: 1, position: 'right', min: 0, max: 800, interval: 100,
      name: 'Precipitation [mm]', nameLocation: 'middle', nameRotate: 90, nameGap: 148,
      nameTextStyle: { color: GREEN, fontSize: FS, fontFamily: FONT },
      axisLine: { show: true, lineStyle: axisLineStyle },
      axisTick: tickStyle,
      axisLabel: Object.assign({ margin: 36 }, labelStyle),
      splitLine: { show: false }
    }
  ],
  legend: [
    {
      data: [{ name: 'Observed', icon: SOLID_ICON }, { name: 'Trend', icon: DASH_ICON }],
      left: 1760, top: 78, padding: 0, orient: 'horizontal', itemWidth: 95, itemHeight: 5, itemGap: 96,
      selectedMode: false,
      textStyle: { color: '#000', fontSize: FS, fontFamily: FONT, padding: [0, 0, 0, 26] }
    },
    {
      data: [{ name: 'BS3', icon: SOLID_ICON }, { name: 'NY-10', icon: SOLID_ICON }],
      left: 1925, top: 1433, padding: 0, orient: 'horizontal', itemWidth: 96, itemHeight: 5, itemGap: 41,
      selectedMode: false,
      textStyle: { color: '#000', fontSize: FS, fontFamily: FONT, padding: [0, 0, 0, 33] }
    }
  ],
  series: [
    // panel (a)
    bandSeries(seaBand, 0, 0, 'rgba(186,85,211,0.31)'),
    { name: 'Observed', type: 'line', xAxisIndex: 0, yAxisIndex: 0, data: [], symbol: 'none',
      lineStyle: { color: ORCHID, width: 5 }, itemStyle: { color: ORCHID } },
    { name: 'Trend', type: 'line', xAxisIndex: 0, yAxisIndex: 0, data: seaTrend, symbol: 'none', silent: true,
      lineStyle: { color: ORCHID, width: 3, type: [11, 5] }, itemStyle: { color: ORCHID } },
    { name: 'Pressure', type: 'line', xAxisIndex: 0, yAxisIndex: 1, data: pressure, symbol: 'none', silent: true,
      lineStyle: { color: GRAY, width: 3 } },
    // panel (b)
    bandSeries(bs3Band, 1, 2, 'rgba(70,130,180,0.38)'),
    { name: 'BS3', type: 'line', xAxisIndex: 1, yAxisIndex: 2, data: bs3, symbol: 'none', silent: true,
      lineStyle: { color: STEEL, width: 5 }, itemStyle: { color: STEEL },
      markPoint: {
        silent: true, symbol: 'circle', symbolSize: 0,
        label: { show: true, position: 'inside', formatter: '{b}', color: STEEL, fontSize: FS, fontFamily: FONT },
        data: noteLabels.map(function (n) { return { name: n[0], coord: [n[1], n[2]] }; })
      }
    },
    { name: 'NY-10 observed', type: 'line', xAxisIndex: 1, yAxisIndex: 2, data: ny10Obs, symbol: 'none', silent: true,
      lineStyle: { color: DODGER, width: 2, opacity: 0.55 } },
    { name: 'NY-10', type: 'line', xAxisIndex: 1, yAxisIndex: 2, data: ny10, symbol: 'none', silent: true,
      lineStyle: { color: DODGER, width: 5 }, itemStyle: { color: DODGER } },
    { name: 'Precipitation', type: 'line', xAxisIndex: 1, yAxisIndex: 3, data: precip, symbol: 'none', silent: true,
      lineStyle: { color: GREEN, width: 6 } }
  ]
};

chart.setOption(option);

// panel letters and annotation arrows (arrow ends placed through the panel (b) axes)
function arrowGraphic(arrow) {
  var t = chart.convertToPixel({ xAxisIndex: 1, yAxisIndex: 2 }, arrow[0]);
  var h = chart.convertToPixel({ xAxisIndex: 1, yAxisIndex: 2 }, arrow[1]);
  var ang = Math.atan2(t[1] - h[1], t[0] - h[0]);
  var len = 24, spread = Math.PI / 6;
  var a1 = [h[0] + len * Math.cos(ang + spread), h[1] + len * Math.sin(ang + spread)];
  var a2 = [h[0] + len * Math.cos(ang - spread), h[1] + len * Math.sin(ang - spread)];
  return [
    { type: 'polyline', z: 100, shape: { points: [t, h] }, style: { stroke: STEEL, lineWidth: 5, fill: null } },
    { type: 'polyline', z: 100, shape: { points: [a1, h, a2] },
      style: { stroke: STEEL, lineWidth: 5, fill: null, lineCap: 'round', lineJoin: 'round' } }
  ];
}

chart.setOption({
  graphic: [
    { type: 'text', left: 323, top: 83, style: { text: '(a)', font: FS + 'px "' + FONT + '"', fill: '#000' } },
    { type: 'text', left: 323, top: 686, style: { text: '(b)', font: FS + 'px "' + FONT + '"', fill: '#000' } }
  ].concat(arrowGraphic(arrowObserved), arrowGraphic(arrowCorrected))
});
</script>
</body>
</html>
